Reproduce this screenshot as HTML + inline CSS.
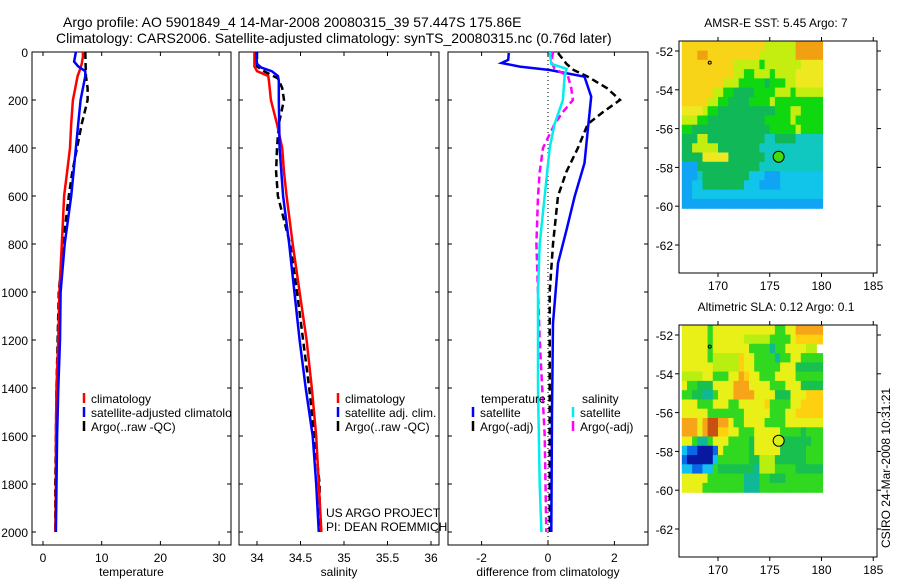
<!DOCTYPE html>
<html><head><meta charset="utf-8"><style>
html,body{margin:0;padding:0;background:#fff;}
svg{display:block;font-family:"Liberation Sans",sans-serif;}
</style></head><body>
<svg id="fig" width="900" height="580" viewBox="0 0 900 580" xmlns="http://www.w3.org/2000/svg">
<defs><clipPath id="clipT"><rect x="32" y="52" width="199" height="493"/></clipPath></defs>
</svg>
<script>
// ---------- data ----------
const tempDepth = [0,20,50,80,100,150,200,300,400,500,600,700,800,900,1000,1200,1400,1600,1800,2000];
const tempClim  = [6.8,6.8,6.6,6.2,5.9,5.5,5.1,4.8,4.6,4.1,3.6,3.4,3.2,3.0,2.8,2.6,2.3,2.2,2.2,2.1];
const tempSatDepth = [0,40,60,80,100,200,300,400,600,800,1000,1200,1400,1600,2000];
const tempSat   = [5.6,5.3,6.0,7.2,7.2,6.4,6.0,5.6,4.8,3.7,3.0,2.9,2.6,2.4,2.2];
const tempArgoDepth = [0,100,150,200,250,300,400,500,600,800,1000,1400,1800,2000];
const tempArgo  = [7.2,7.3,7.6,7.6,7.1,6.6,5.8,5.0,4.4,3.4,2.7,2.3,2.1,2.1];

const salClimDepth = [0,60,80,100,130,200,300,400,500,600,800,1000,1200,1400,1600,1800,2000];
const salClim  = [33.97,33.97,34.0,34.13,34.14,34.16,34.23,34.29,34.31,34.34,34.41,34.49,34.57,34.63,34.68,34.71,34.74];
const salSatDepth = [0,50,65,80,100,120,200,400,600,800,1000,1200,1400,1600,1800,2000];
const salSat   = [33.99,34.0,34.05,34.17,34.24,34.25,34.25,34.26,34.30,34.37,34.43,34.49,34.56,34.64,34.68,34.71];
const salArgoDepth = [0,60,80,110,150,200,250,300,400,500,600,800,1000,1200,1400,1600,1800,2000];
const salArgo  = [34.0,34.0,34.08,34.24,34.29,34.31,34.28,34.25,34.23,34.22,34.24,34.38,34.46,34.53,34.60,34.66,34.72,34.72];

const dTSatDepth = [4,33,46,61,75,103,186,325,463,603,740,880,1129,1500,2000];
const dTSat  = [-1.18,-1.2,-1.4,-0.85,0.05,1.1,1.3,1.2,1.1,0.8,0.56,0.3,0.15,0.12,0.1];
const dTArgoDepth = [4,50,75,103,150,200,250,300,400,500,600,800,1000,1600,2000];
const dTArgo = [0.3,0.56,0.77,1.2,1.77,2.17,1.66,1.2,0.9,0.55,0.3,0.15,0.05,0.05,0.05];
const dSSatDepth = [0,50,70,100,200,300,400,600,800,1000,1400,1800,2000];
const dSSat  = [0.05,0.1,0.56,0.5,0.45,0.2,0.05,-0.1,-0.25,-0.3,-0.3,-0.25,-0.2];
const dSArgoDepth = [0,40,70,100,150,200,250,300,400,500,600,800,1000,1200,1600,2000];
const dSArgo = [0.15,0.1,0.2,0.6,0.7,0.75,0.45,0.2,-0.15,-0.25,-0.3,-0.35,-0.3,-0.25,-0.1,-0.05];

const depthTicks = [0,200,400,600,800,1000,1200,1400,1600,1800,2000];
const tempTicks = [0,10,20,30];
const salTicks = [34,34.5,35,35.5,36];
const salTickLabels = ["34","34.5","35","35.5","36"];
const diffTicks = [-2,0,2];
const lonTicks = [170,175,180,185];
const latTicks = [-52,-54,-56,-58,-60,-62];

// map fields, run-length rows (0.5 deg columns from 166.5E)
const sstRows = ["Y16l6O5","Y3O2Y10l7O5","Y10l5G1l7y4","Y10l2G2l3G1l4y5","Y8l3G5g1G3l2y5","Y6l2G2g4G4l3G1l5","Y5l2G2g4G4l1G9","y4l1G2g11G3l2G4","l3G2g11G5l1G5","G2g15G5l1G4","g3l2g11t2g4t5","g2l5g8t12","g4y5g7t11","b3g12t12","b3t1g9c3b3c8","b2c2g8c3b4c8","b2c25","b27"];
const slaRows = ["y5G1y12G2y2O5","y5G1y6l5G4y1Y5","y5G1y7G4t1G2y4l2","y5G1l5Y1y2G4t1G2y2G4","y6l5Y1y2G5y3g5","l4y2G3y2O1Y1y2G3y4G5","y1G2g3y4O3y4G3y3g4","G2g2t2G1y3O4y4g3y3Y3","y3G3y3G2y5Y1G4y2Y4","y5G7y5G3y2Y5","O3y1O1R2O2y1G2y4G4y7","O3y1O1R2Y2y2G3y5G4g1G3","y2G1t2G1y3G4g1y5g6G2","c1b2B3b1y1G5g1y5g5G3","b1B5c1G6g2l3g6G3","c2b2c2G1g7t1l3G4g5","y5G7t3G2g3G7","y4G8t3G12"];
const colorsSST = {O:"#f0a010",Y:"#f8d418",y:"#eee820",l:"#c4ee10",G:"#10d810",g:"#10b858",t:"#10c8c0",c:"#10c4ea",b:"#10a4f4"};
const colorsSLA = {y:"#e8f018",l:"#b8ee10",G:"#30d820",g:"#18c050",t:"#10b898",O:"#f8a418",Y:"#ffd010",R:"#c85010",B:"#0818a0",b:"#0868e8",c:"#10c0f0"};

// ---------- helpers ----------
const NS = "http://www.w3.org/2000/svg";
const svg = document.getElementById("fig");
function mk(tag, attrs, parent){
  const e = document.createElementNS(NS, tag);
  for (const k in attrs) e.setAttribute(k, attrs[k]);
  (parent||svg).appendChild(e);
  return e;
}
function txt(s, x, y, anchor, size, parent){
  const t = mk("text", {x:x, y:y, "text-anchor":anchor||"start", "font-size":size||12, fill:"#000"}, parent);
  t.textContent = s;
  return t;
}
const top0 = 52, bot = 545, depthScale = 0.24;
function yD(d){ return top0 + d*depthScale; }

function panel(name, x0, x1, xf, ticks, labels, xlabel){
  const g = mk("g", {});
  
  
  const fr = mk("rect", {x:x0, y:top0, width:x1-x0, height:bot-top0, fill:"none", stroke:"#000", "stroke-width":1}, g);
  
  
  ticks.forEach((v,i)=>{
    const x = xf(v);
    mk("line",{x1:x,y1:bot,x2:x,y2:bot-4,stroke:"#000"},g);
    mk("line",{x1:x,y1:top0,x2:x,y2:top0+4,stroke:"#000"},g);
    const t = txt(labels[i], x, 562, "middle", 12, g);
    
    
  });
  depthTicks.forEach(d=>{
    const y = yD(d);
    mk("line",{x1:x0,y1:y,x2:x0+4,y2:y,stroke:"#000"},g);
    mk("line",{x1:x1,y1:y,x2:x1-4,y2:y,stroke:"#000"},g);
  });
  const xl = txt(xlabel, (x0+x1)/2, 576, "middle", 12, g);
  
  
  return g;
}
function profile(g, depths, vals, xf, color, dash, w, name){
  const pts = depths.map((d,i)=> xf(vals[i]).toFixed(1)+","+yD(d).toFixed(1)).join(" ");
  const p = mk("polyline",{points:pts, fill:"none", stroke:color, "stroke-width":w||2.5, "stroke-dasharray":dash||"none"}, g);
  
  
}
function legendEntry(g, x, y, color, label){
  const m = mk("line",{x1:x,y1:y-10,x2:x,y2:y,stroke:color,"stroke-width":2.5},g);
  
  
  const t = txt(label, x+7, y, "start", 12, g);
  
  
}

// ---------- titles ----------
const t1 = txt("Argo profile: AO 5901849_4 14-Mar-2008 20080315_39 57.447S 175.86E", 63, 27, "start", 14);


const t2 = txt("Climatology: CARS2006. Satellite-adjusted climatology: synTS_20080315.nc (0.76d later)", 56, 43, "start", 14);



// y tick labels
depthTicks.forEach(d=>{
  const t = txt(String(d), 28, yD(d)+5, "end", 12);
  
  
});

// ---------- temperature panel ----------
const xT = v => 43 + v*5.87;
const gT = panel("temperature-panel", 32, 231, xT, tempTicks, tempTicks.map(String), "temperature");
profile(gT, tempArgoDepth, tempArgo, xT, "#000", "7,4", 2.5, "argo-temperature-line");
profile(gT, tempDepth, tempClim, xT, "#f00", null, 2.5, "climatology-temperature-line");
profile(gT, tempSatDepth, tempSat, xT, "#00f", null, 2.5, "satellite-temperature-line");
const gTL = mk("g", {"clip-path":"url(#clipT)"}, gT);


legendEntry(gTL, 84, 403, "#f00", "climatology");
legendEntry(gTL, 84, 417, "#00f", "satellite-adjusted climatology");
legendEntry(gTL, 84, 431, "#000", "Argo(..raw -QC)");

// ---------- salinity panel ----------
const xS = v => 257 + (v-34)*87;
const gS = panel("salinity-panel", 239, 439, xS, salTicks, salTickLabels, "salinity");
profile(gS, salArgoDepth, salArgo, xS, "#000", "7,4", 2.5, "argo-salinity-line");
profile(gS, salClimDepth, salClim, xS, "#f00", null, 2.5, "climatology-salinity-line");
profile(gS, salSatDepth, salSat, xS, "#00f", null, 2.5, "satellite-salinity-line");
legendEntry(gS, 338, 403, "#f00", "climatology");
legendEntry(gS, 338, 417, "#00f", "satellite adj. clim.");
legendEntry(gS, 338, 431, "#000", "Argo(..raw -QC)");
const us1 = txt("US ARGO PROJECT", 326, 517, "start", 12);


const us2 = txt("PI: DEAN ROEMMICH", 326, 531, "start", 12);



// ---------- difference panel ----------
const xDf = v => 548 + v*33.2;
const gD = panel("difference-panel", 448, 648, xDf, diffTicks, diffTicks.map(String), "difference from climatology");
const zl = mk("line",{x1:xDf(0),y1:top0,x2:xDf(0),y2:bot,stroke:"#000","stroke-width":1,"stroke-dasharray":"1,3"},gD);


profile(gD, dTArgoDepth, dTArgo, xDf, "#000", "7,4", 2.5, "argo-temperature-difference");
profile(gD, dTSatDepth, dTSat, xDf, "#00f", null, 2.5, "satellite-temperature-difference");
profile(gD, dSArgoDepth, dSArgo, xDf, "#f0f", "7,4", 2.5, "argo-salinity-difference");
profile(gD, dSSatDepth, dSSat, xDf, "#0ee", null, 2.5, "satellite-salinity-difference");
const lt = txt("temperature", 481, 403, "start", 12, gD);


const ls = txt("salinity", 582, 403, "start", 12, gD);


legendEntry(gD, 473, 417, "#00f", "satellite");
legendEntry(gD, 473, 431, "#000", "Argo(-adj)");
legendEntry(gD, 573, 417, "#0ee", "satellite");
legendEntry(gD, 573, 431, "#f0f", "Argo(-adj)");

// ---------- maps ----------
function expand(row){
  const out = [];
  row.replace(/([A-Za-z])(\d+)/g, (m,c,n)=>{ for(let i=0;i<+n;i++) out.push(c); });
  return out;
}
function drawMap(name, top, rows, colors, title, circleFill){
  const g = mk("g", {});
  
  
  const left = 679, right = 877, bottom = top + 232;
  const lx = lon => 718 + (lon-170)*10.35;
  const ly = lat => top + 10 + (-52 - lat)*19.4;
  const lonStart = 166.5, lonEnd = 180.1, latStart = -51.5, latEnd = -60.1;
  const nR = rows.length, rowH = (latStart-latEnd)/nR;
  rows.forEach((r,ri)=>{
    const cells = expand(r);
    cells.forEach((c,ci)=>{
      if (ci > 26) return;
      const lo0 = lonStart + ci*0.5, lo1 = Math.min(lonEnd, lo0+0.5 + (ci===26?0.1:0));
      const la0 = latStart - ri*rowH, la1 = la0 - rowH;
      const x0 = lx(lo0), x1 = lx(lo1), y0 = Math.max(top, ly(la0)), y1 = ly(la1);
      const cell = mk("rect",{x:x0.toFixed(1),y:y0.toFixed(1),width:(x1-x0+0.6).toFixed(1),height:(y1-y0+0.6).toFixed(1),fill:colors[c]||"#ccc"},g);
      
      
    });
  });
  const fr = mk("rect",{x:left,y:top,width:right-left,height:bottom-top,fill:"none",stroke:"#000"},g);
  
  
  lonTicks.forEach(l=>{
    const x = lx(l);
    mk("line",{x1:x,y1:bottom,x2:x,y2:bottom+4,stroke:"#000"},g);
    mk("line",{x1:x,y1:top,x2:x,y2:top-4,stroke:"#000"},g);
    const t = txt(String(l), x, bottom+17, "middle", 12, g);
    
    
  });
  latTicks.forEach(l=>{
    const y = ly(l);
    mk("line",{x1:left,y1:y,x2:left-4,y2:y,stroke:"#000"},g);
    mk("line",{x1:right,y1:y,x2:right+4,y2:y,stroke:"#000"},g);
    const t = txt(String(l), 673, y+5, "end", 12, g);
    
    
  });
  const tt = txt(title, 776, top-14, "middle", 12, g);
  
  
  const mk2 = mk("circle",{cx:lx(169.2),cy:ly(-52.6),r:1.5,fill:"none",stroke:"#000"},g);
  
  
  const c = mk("circle",{cx:lx(175.86),cy:ly(-57.45),r:5.5,fill:circleFill,stroke:"#000","stroke-width":1},g);
  
  
}
drawMap("sst-map", 41, sstRows, colorsSST, "AMSR-E SST: 5.45 Argo: 7", "#40dc10");
drawMap("sla-map", 325, slaRows, colorsSLA, "Altimetric SLA: 0.12 Argo: 0.1", "#d8f018");

const cs = txt("CSIRO 24-Mar-2008 10:31:21", 0, 0, "middle", 12);
cs.setAttribute("transform","translate(890,468) rotate(-90)");


</script>
</body></html>
